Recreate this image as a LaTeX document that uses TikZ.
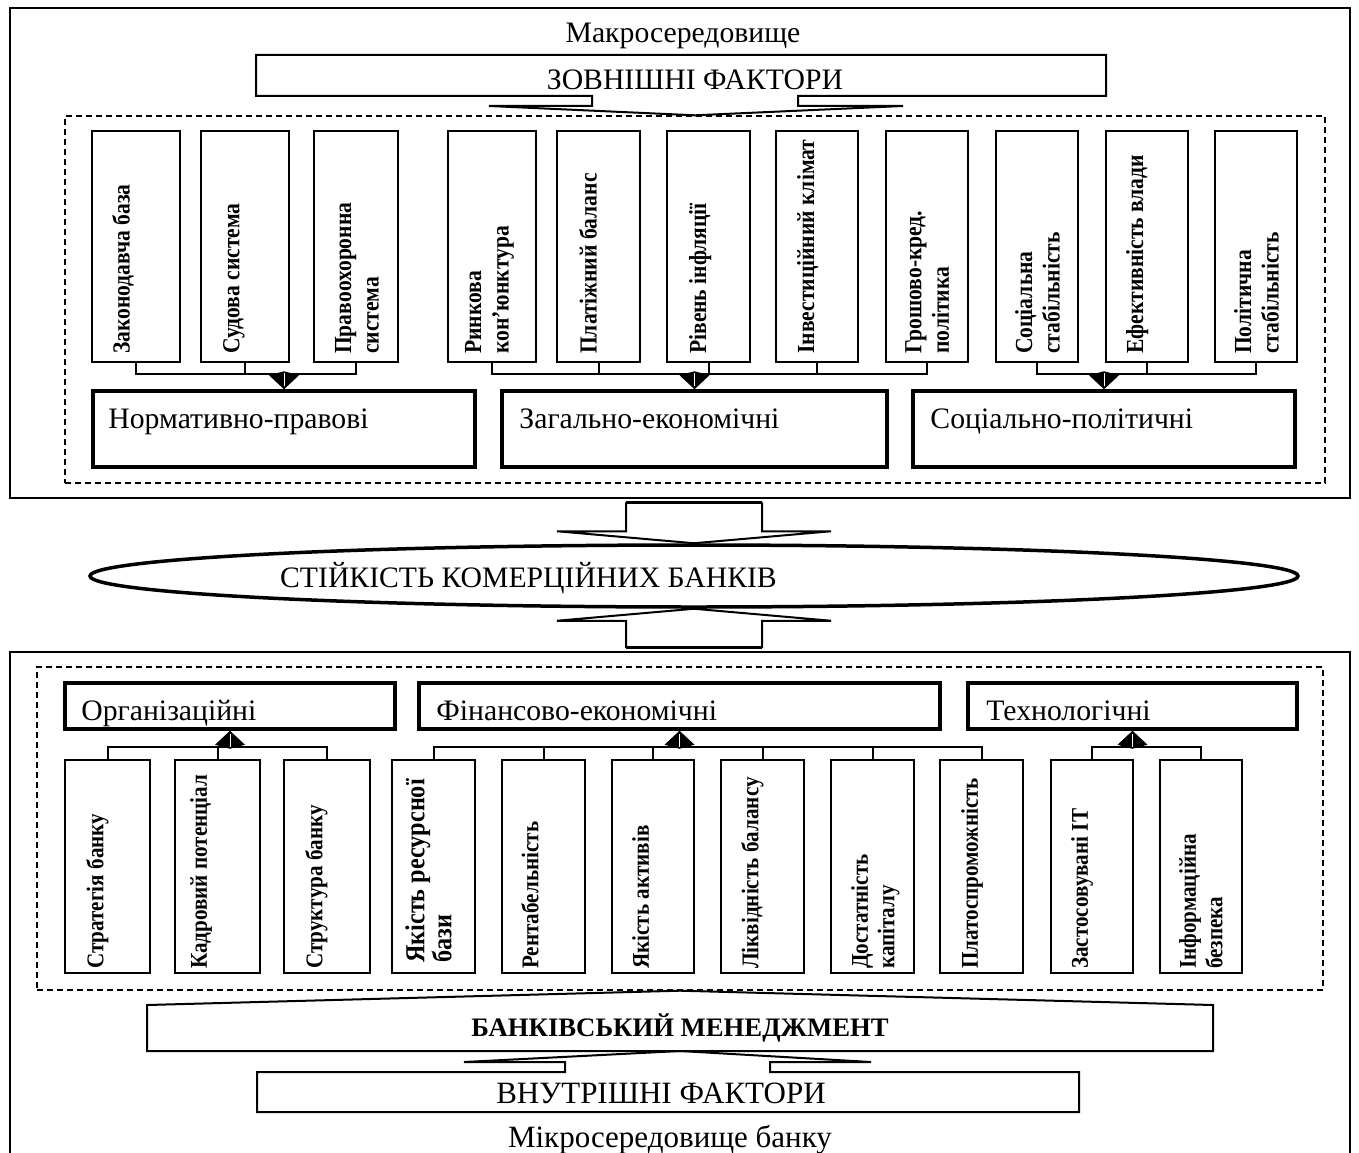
\documentclass[tikz,border=0pt]{standalone}
\usepackage{fontspec}
\setmainfont{Liberation Serif}
\newfontfamily\narrowserif{Liberation Serif}[FakeStretch=0.88]
\usetikzlibrary{shapes.geometric,calc}

% arrow heads on the group buses
\newcommand\kitedn[1]{%
  \fill #1 -- ++(-15,-14) -- ++(15,-4) -- ++(15,4) -- cycle;
  \draw[white,line width=0.7pt] #1 ++(0,-3) -- ++(0,-13);}
\newcommand\kiteup[1]{%
  \fill #1 -- ++(-15,14) -- ++(15,4) -- ++(15,-4) -- cycle;
  \draw[white,line width=0.7pt] #1 ++(0,3) -- ++(0,13);}

\tikzset{
  wh/.style 2 args={minimum width=#1, minimum height=#2},
  frame/.style={draw, line width=2pt, inner sep=0},
  dashframe/.style={draw, line width=1.4pt, dash pattern=on 6pt off 4pt, inner sep=0},
  vbox/.style={draw, line width=2pt, inner sep=0},
  gbox/.style={draw, line width=3.5pt, inner sep=0},
  vtext/.style={rotate=90, anchor=north west, inner sep=0, align=left,
    font=\narrowserif\bfseries\fontsize{24.5}{27.5}\selectfont},
  vtextl/.style={vtext, font=\narrowserif\bfseries\fontsize{24}{26.5}\selectfont},
  glabel/.style={anchor=base west, inner sep=0, font=\fontsize{29.7}{34}\selectfont},
  big/.style={inner sep=0, font=\fontsize{29.7}{34}\selectfont},
  bigger/.style={inner sep=0, font=\fontsize{31}{36}\selectfont},
  bus/.style={line width=2pt},
  outline/.style={line width=2pt, line join=miter},
}

\begin{document}
\begin{tikzpicture}[x=1pt,y=-1pt]
\useasboundingbox (0,0) rectangle (1359,1153);

% ---------------- external environment ----------------
\node[frame, wh={1340}{490}] (macro) at (680,253) {};
\node[big] (macrot) at (683,36) {Макросередовище};

\node[dashframe, wh={1260}{367}] (dA) at (695,299.5) {};

\node[big] (ext) at (695,80) {ЗОВНІШНІ ФАКТОРИ};
\draw[outline] (256,55) -- (1106,55) -- (1106,96) -- (798,96) -- (798,106)
  -- (903,106) -- (dA.north) -- (489,106) -- (592,106) -- (592,96)
  -- (256,96) -- cycle;

% upper factor boxes
\foreach \n/\cx/\w in {1/136/88, 2/245/88, 3/356/84, 4/492/88, 5/598.5/83,
  6/708.5/83, 7/817/82, 8/927/82, 9/1037/82, 10/1147/82, 11/1256/82}
  \node[vbox, wh={\w}{231}] (u\n) at (\cx,246.5) {};

\node[vtext] (u1t) at ($(u1.south west)+(21,-9)$) {Законодавча база};
\node[vtext] (u2t) at ($(u2.south west)+(23,-9)$) {Судова система};
\node[vtext] (u3t) at ($(u3.south west)+(22,-9)$) {Правоохоронна\\система};
\node[vtext] (u4t) at ($(u4.south west)+(18,-9)$) {Ринкова\\кон’юнктура};
\node[vtext] (u5t) at ($(u5.south west)+(23,-9)$) {Платіжний баланс};
\node[vtext] (u6t) at ($(u6.south west)+(23,-9)$) {Рівень інфляції};
\node[vtext] (u7t) at ($(u7.south west)+(22,-9)$) {Інвестиційний клімат};
\node[vtext] (u8t) at ($(u8.south west)+(20,-9)$) {Грошово-кред.\\політика};
\node[vtext] (u9t) at ($(u9.south west)+(20,-9)$) {Соціальна\\стабільність};
\node[vtext] (u10t) at ($(u10.south west)+(21,-9)$) {Ефективність влади};
\node[vtext] (u11t) at ($(u11.south west)+(20,-9)$) {Політична\\стабільність};

% group boxes
\node[gbox, wh={382}{76}] (gA) at (284,429) {};
\node[gbox, wh={385}{76}] (gB) at (694.5,429) {};
\node[gbox, wh={382}{76}] (gC) at (1104,429) {};
\node[glabel] (gAt) at ($(gA.north west)+(17,39)$) {Нормативно-правові};
\node[glabel] (gBt) at ($(gB.north west)+(19,39)$) {Загально-економічні};
\node[glabel] (gCt) at ($(gC.north west)+(19,39)$) {Соціально-політичні};

% buses into the group boxes
\coordinate (busA) at ($(gA.north)+(0,-15)$);
\coordinate (busB) at ($(gB.north)+(0,-15)$);
\coordinate (busC) at ($(gC.north)+(0,-15)$);
\draw[bus] (u1.south) |- (busA) -| (u3.south);
\draw[bus] (u2.south) -- (u2.south |- busA);
\draw[bus] (u4.south) |- (busB) -| (u8.south);
\foreach \n in {5,6,7} \draw[bus] (u\n.south) -- (u\n.south |- busB);
\draw[bus] (u9.south) |- (busC) -| (u11.south);
\draw[bus] (u10.south) -- (u10.south |- busC);
\kitedn{(gA.north)}
\kitedn{(gB.north)}
\kitedn{(gC.north)}

% ---------------- stability of banks ----------------
\node[draw, ellipse, line width=3.5pt, inner sep=0, wh={1208}{62}] (ell) at (694,576) {};
\node[big] (ellt) at (528.5,578) {СТІЙКІСТЬ КОМЕРЦІЙНИХ БАНКІВ};

% arrow from the external factors
\draw[outline] ($(ell.north)+(-68,-41)$) -- ($(ell.north)+(-68,-12)$)
  -- ($(ell.north)+(-137,-12)$) -- (ell.north) -- ($(ell.north)+(137,-12)$)
  -- ($(ell.north)+(68,-12)$) -- ($(ell.north)+(68,-41)$);
\draw[line width=3pt] ($(ell.north)+(-68,-41)$) -- ($(ell.north)+(68,-41)$);

% arrow from the internal factors
\draw[outline] ($(ell.south)+(-68,39)$) -- ($(ell.south)+(-68,12)$)
  -- ($(ell.south)+(-137,12)$) -- (ell.south) -- ($(ell.south)+(137,12)$)
  -- ($(ell.south)+(68,12)$) -- ($(ell.south)+(68,39)$);
\draw[line width=3pt] ($(ell.south)+(-68,39)$) -- ($(ell.south)+(68,39)$);

% ---------------- internal environment ----------------
\draw[line width=2pt] (10,1153) -- (10,652) -- (1350,652) -- (1350,1153);

\node[dashframe, wh={1286}{323}] (dB) at (680,828.5) {};

% group boxes
\node[gbox, wh={330}{46}] (gO) at (230,706) {};
\node[gbox, wh={521}{46}] (gF) at (679.5,706) {};
\node[gbox, wh={329}{46}] (gT) at (1132.5,706) {};
\node[glabel] (gOt) at ($(gO.north west)+(18,39)$) {Організаційні};
\node[glabel] (gFt) at ($(gF.north west)+(19,39)$) {Фінансово-економічні};
\node[glabel] (gTt) at ($(gT.north west)+(20,39)$) {Технологічні};

% lower factor boxes
\foreach \n/\cx/\w in {1/107.5/85, 2/217.5/85, 3/327/86, 4/433.5/83, 5/543.5/83,
  6/653/82, 7/762.5/83, 8/872.5/83, 9/981.5/83, 10/1092/82, 11/1201/82}
  \node[vbox, wh={\w}{213}] (l\n) at (\cx,866.5) {};

\node[vtextl] (l1t) at ($(l1.south west)+(22,-5)$) {Стратегія банку};
\node[vtextl] (l2t) at ($(l2.south west)+(16,-5)$) {Кадровий потенціал};
\node[vtextl] (l3t) at ($(l3.south west)+(22,-5)$) {Структура банку};
\node[vtext, font=\narrowserif\bfseries\fontsize{27.5}{27}\selectfont] (l4t)
  at ($(l4.south west)+(14,-11)$) {Якість ресурсної\\бази};
\node[vtextl] (l5t) at ($(l5.south west)+(20,-5)$) {Рентабельність};
\node[vtextl] (l6t) at ($(l6.south west)+(21,-5)$) {Якість активів};
\node[vtextl] (l7t) at ($(l7.south west)+(21,-5)$) {Ліквідність балансу};
\node[vtextl] (l8t) at ($(l8.south west)+(21,-5)$) {Достатність\\капіталу};
\node[vtextl] (l9t) at ($(l9.south west)+(22,-5)$) {Платоспроможність};
\node[vtextl] (l10t) at ($(l10.south west)+(21,-5)$) {Застосовувані ІТ};
\node[vtextl] (l11t) at ($(l11.south west)+(20,-5)$) {Інформаційна\\безпека};

% buses into the group boxes
\coordinate (busO) at ($(gO.south)+(0,16)$);
\coordinate (busF) at ($(gF.south)+(0,16)$);
\coordinate (busT) at ($(gT.south)+(0,16)$);
\draw[bus] (l1.north) |- (busO) -| (l3.north);
\draw[bus] (l2.north) -- (l2.north |- busO);
\draw[bus] (l4.north) |- (busF) -| (l9.north);
\foreach \n in {5,6,7,8} \draw[bus] (l\n.north) -- (l\n.north |- busF);
\draw[bus] (l10.north) |- (busT) -| (l11.north);
\kiteup{(gO.south)}
\kiteup{(gF.south)}
\kiteup{(gT.south)}

% bank management
\node[inner sep=0, font=\bfseries\fontsize{26.7}{31}\selectfont] (mg) at (680,1028)
  {БАНКІВСЬКИЙ МЕНЕДЖМЕНТ};
\coordinate (mgbase) at (680,1051);
\draw[outline] (147,1051) -- (147,1005) -- (dB.south) -- (1213,1005)
  -- (1213,1051) -- cycle;

% internal factors
\node[bigger] (int) at (661,1093) {ВНУТРІШНІ ФАКТОРИ};
\draw[outline] (257,1112) -- (257,1072) -- (565,1072) -- (565,1062) -- (464,1062)
  -- (mgbase) -- (871,1062) -- (770,1062) -- (770,1072) -- (1079,1072)
  -- (1079,1112) -- cycle;

\node[bigger] (micro) at (670,1140) {Мікросередовище банку};
\end{tikzpicture}
\end{document}
